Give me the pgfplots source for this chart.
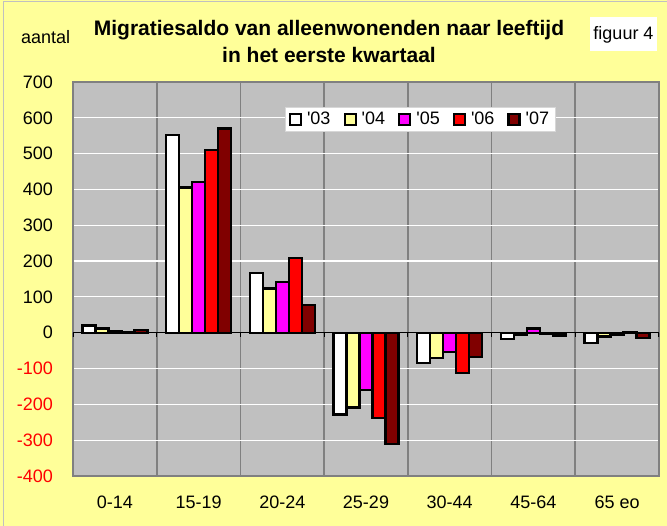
\documentclass[border=0pt]{standalone}
\usepackage{pgfplots}
\pgfplotsset{compat=1.18}
\usepackage{fontspec}
\setmainfont{Liberation Sans}
\definecolor{bgyellow}{HTML}{FFFF99}
\definecolor{plotgray}{HTML}{C0C0C0}
\definecolor{sepgray}{HTML}{808080}
\definecolor{c03}{HTML}{FFFFFF}
\definecolor{c04}{HTML}{FFFF99}
\definecolor{c05}{HTML}{FF00FF}
\definecolor{c06}{HTML}{FF0000}
\definecolor{c07}{HTML}{800000}
\pgfplotsset{
  mybar/.style={fill=#1, draw=black, line width=2.4pt,
    legend image code/.code={\draw[fill=#1, draw=black, line width=2.2pt] (1pt,-5.5pt) rectangle (12pt,5.5pt);}},
}
\begin{document}
\begin{tikzpicture}[x=1pt,y=1pt]
\fill[bgyellow] (0,0) rectangle (667,526);
\draw[plotgray, line width=1.5pt] (3.5,0) -- (3.5,524.5) -- (667,524.5);
\begin{axis}[
  at={(73pt,50pt)}, anchor=south west,
  scale only axis, width=586pt, height=394pt,
  xmin=-0.5, xmax=6.5, ymin=-400, ymax=700,
  axis background/.style={fill=plotgray},
  axis line style={draw=sepgray, line width=1.8pt},
  ybar=0pt, bar width=13pt,
  xtick={0,...,6},
  xticklabels={0-14,15-19,20-24,25-29,30-44,45-64,65 eo},
  minor xtick={0.5,1.5,...,5.5},
  xminorgrids, minor x grid style={sepgray, line width=1.8pt},
  ytick={-400,-300,...,700},
  yticklabels={\textcolor{red}{-400},\textcolor{red}{-300},\textcolor{red}{-200},\textcolor{red}{-100},0,100,200,300,400,500,600,700},
  ymajorgrids, major y grid style={white, line width=1.2pt},
  major tick length=0pt, minor tick length=0pt,
  tick style={draw=none},
  ticklabel style={font=\fontsize{18}{20}\selectfont},
  yticklabel style={inner sep=0pt, xshift=-20pt},
  xticklabel style={inner sep=0pt, anchor=base, yshift=-33pt},
  legend columns=5,
  legend cell align=left,
  legend style={at={(0.361,0.937)}, anchor=north west, fill=white,
    draw={rgb,255:red,215;green,215;blue,215}, line width=0.6pt,
    font=\fontsize{18}{20}\selectfont, inner xsep=4pt, inner ysep=3pt,
    /tikz/every even column/.append style={column sep=11pt},
    nodes={inner xsep=2pt}},
]
\draw[black, line width=1pt] (axis cs:-0.5,0) -- (axis cs:6.5,0);
\pgfplotsinvokeforeach{0,...,7}{
  \draw[black, line width=1.2pt] (axis cs:#1-0.5,0) -- ++(0pt,-4pt);
}
\addplot[mybar=c03] coordinates {(0,20) (1,552) (2,166) (3,-228) (4,-84) (5,-17) (6,-28)};
\addlegendentry{\hspace{3pt}\textquotesingle 03}
\addplot[mybar=c04] coordinates {(0,12) (1,405) (2,123) (3,-209) (4,-70) (5,-6) (6,-11)};
\addlegendentry{\hspace{3pt}\textquotesingle 04}
\addplot[mybar=c05] coordinates {(0,4) (1,420) (2,142) (3,-160) (4,-54) (5,12) (6,-5)};
\addlegendentry{\hspace{3pt}\textquotesingle 05}
\addplot[mybar=c06] coordinates {(0,2) (1,510) (2,209) (3,-238) (4,-113) (5,-4) (6,2)};
\addlegendentry{\hspace{3pt}\textquotesingle 06}
\addplot[mybar=c07] coordinates {(0,8) (1,570) (2,78) (3,-311) (4,-68) (5,-8) (6,-15)};
\addlegendentry{\hspace{3pt}\textquotesingle 07}
\end{axis}
\fill[white] (590,475) rectangle (657,509);
\node[anchor=base, inner sep=0pt, font=\fontsize{18}{20}\selectfont] at (623.5,486.7) {figuur 4};
\node[anchor=base west, inner sep=0pt, font=\fontsize{18}{20}\selectfont] at (21,482) {aantal};
\node[anchor=base, inner sep=0pt, font=\bfseries\fontsize{21}{24}\selectfont] at (329,490) {Migratiesaldo van alleenwonenden naar leeftijd};
\node[anchor=base, inner sep=0pt, font=\bfseries\fontsize{21}{24}\selectfont] at (329,463) {in het eerste kwartaal};
\pgfresetboundingbox
\useasboundingbox (0,0) rectangle (667,526);
\end{tikzpicture}
\end{document}
